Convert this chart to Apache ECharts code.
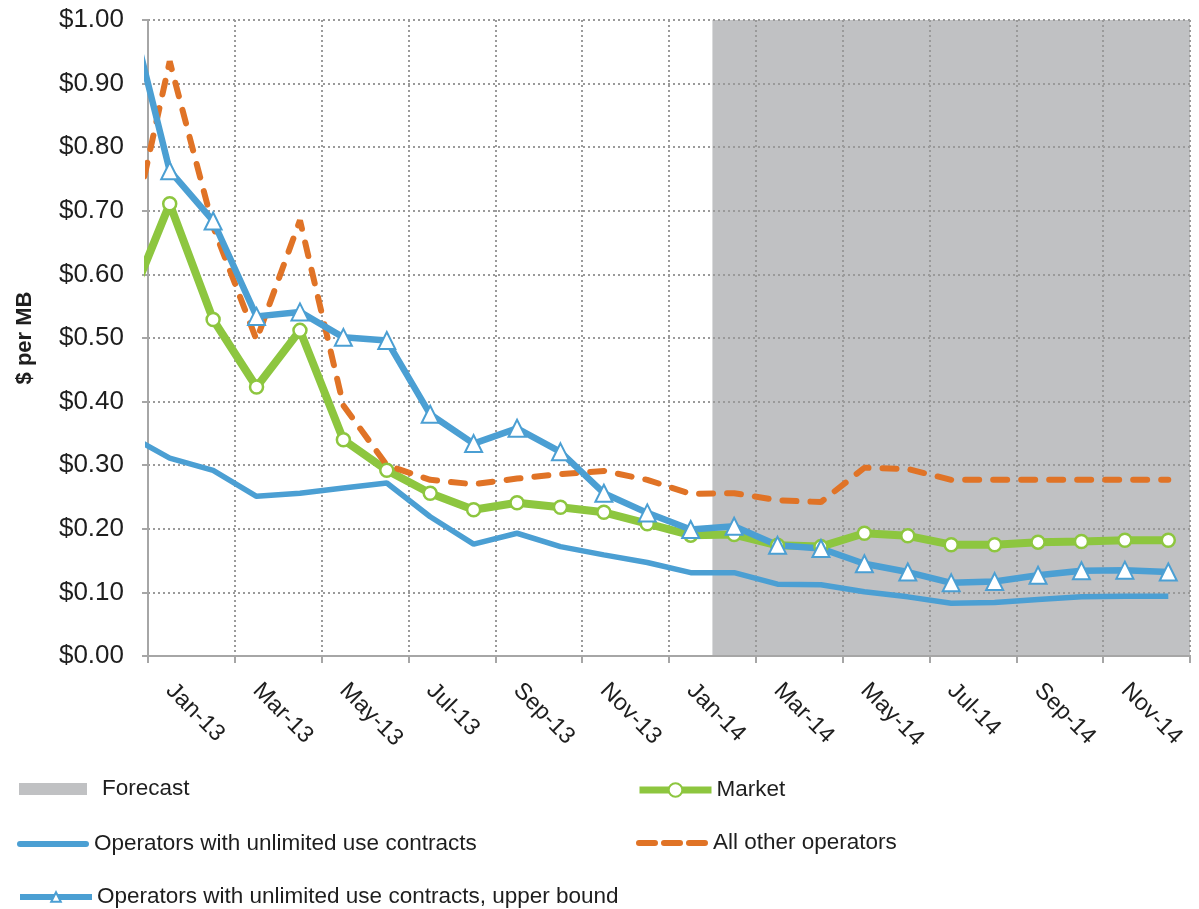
<!DOCTYPE html>
<html>
<head>
<meta charset="utf-8">
<script src="https://cdn.jsdelivr.net/npm/echarts@6/dist/echarts.min.js"></script>
<style>
  html, body { margin: 0; padding: 0; background: #ffffff; }
  #chart { width: 1199px; height: 909px; }
</style>
</head>
<body>
<div id="chart"></div>
<script>
// Axis months (two-year view)
const months = ['Jan-13','Feb-13','Mar-13','Apr-13','May-13','Jun-13','Jul-13','Aug-13','Sep-13','Oct-13','Nov-13','Dec-13',
                'Jan-14','Feb-14','Mar-14','Apr-14','May-14','Jun-14','Jul-14','Aug-14','Sep-14','Oct-14','Nov-14','Dec-14'];
// Series months start one month earlier (Dec-12), which falls just left of the plot and is clipped
const seriesMonths = ['Dec-12'].concat(months);
const forecastStart = 'Feb-14';

const market      = [0.543, 0.711, 0.529, 0.423, 0.512, 0.340, 0.292, 0.256, 0.230, 0.241, 0.234, 0.226, 0.208,
                     0.190, 0.191, 0.174, 0.172, 0.193, 0.189, 0.175, 0.175, 0.179, 0.180, 0.182, 0.182];
const unlimited   = [0.349, 0.311, 0.292, 0.251, 0.256, 0.264, 0.272, 0.219, 0.176, 0.193, 0.172, 0.159, 0.147,
                     0.131, 0.131, 0.113, 0.112, 0.101, 0.093, 0.083, 0.084, 0.089, 0.093, 0.094, 0.094];
const otherOps    = [0.625, 0.935, 0.675, 0.497, 0.685, 0.394, 0.300, 0.277, 0.270, 0.279, 0.286, 0.291, 0.277,
                     0.255, 0.256, 0.245, 0.242, 0.296, 0.294, 0.277, 0.277, 0.277, 0.277, 0.277, 0.277];
const upperBound  = [1.037, 0.763, 0.684, 0.534, 0.541, 0.501, 0.496, 0.380, 0.334, 0.358, 0.321, 0.256, 0.225,
                     0.199, 0.204, 0.174, 0.169, 0.145, 0.132, 0.115, 0.117, 0.127, 0.134, 0.135, 0.132];

const FONT = '"Liberation Sans", Arial, sans-serif';
const TEXT = '#1e1e1e';
const GREEN = '#8dc63f', BLUE = '#4b9fd3', ORANGE = '#e07326', GREY = '#c0c1c3';
const FS = 22.5;

// Hidden continuous x axis: month k of seriesMonths sits at the centre of its band (Jan-13 -> 0.5)
function toPoints(values) {
  return values.map((v, k) => [k - 0.5, v]);
}

// Legend glyphs for the plain and dashed lines (72 x 6 units, rounded ends)
function capsule(x0, x1) {
  return 'M' + (x0 + 3) + ',0H' + (x1 - 3) + 'A3,3 0 0 1 ' + (x1 - 3) + ',6H' + (x0 + 3) + 'A3,3 0 0 1 ' + (x0 + 3) + ',0Z';
}
const solidIcon = 'path://' + capsule(0, 72);
const dashIcon = 'path://' + capsule(0, 22) + ' ' + capsule(25, 47) + ' ' + capsule(50, 72);

const chart = echarts.init(document.getElementById('chart'), null, { renderer: 'canvas' });

function legendAt(left, centreY, extra) {
  return Object.assign({
    left: left, top: centreY - 12, orient: 'horizontal', padding: 0,
    itemWidth: 72, itemHeight: 14, itemGap: 0, selectedMode: false,
    symbolKeepAspect: false,
    textStyle: { fontFamily: FONT, fontSize: FS, color: TEXT, lineHeight: 26, padding: [0, 0, 0, 0] }
  }, extra);
}

chart.setOption({
  animation: false,
  backgroundColor: '#ffffff',
  textStyle: { fontFamily: FONT },
  grid: { left: 148, right: 9, top: 20, bottom: 253, containLabel: false },
  legend: [
    legendAt(19, 788, {
      itemWidth: 68, itemHeight: 12,
      data: [{ name: 'Forecast', icon: 'rect', itemStyle: { color: GREY } }],
      textStyle: { fontFamily: FONT, fontSize: FS, color: TEXT, lineHeight: 26, padding: [0, 0, 0, 10] }
    }),
    legendAt(17, 843, {
      itemHeight: 6,
      data: [{ name: 'Operators with unlimited use contracts', icon: solidIcon, itemStyle: { color: BLUE } }]
    }),
    legendAt(17, 896, {
      lineStyle: { width: 6, color: BLUE },
      itemHeight: 12,
      itemStyle: { color: '#ffffff', borderColor: BLUE, borderWidth: 2 },
      data: ['Operators with unlimited use contracts, upper bound']
    }),
    legendAt(636, 789, {
      lineStyle: { width: 7, color: GREEN },
      itemHeight: 17,
      itemStyle: { color: '#ffffff', borderColor: GREEN, borderWidth: 2 },
      data: ['Market']
    }),
    legendAt(636, 842, {
      itemHeight: 6,
      data: [{ name: 'All other operators', icon: dashIcon, itemStyle: { color: ORANGE } }]
    })
  ],
  xAxis: [
    {
      type: 'category', data: months, boundaryGap: true, position: 'bottom',
      axisLine: { lineStyle: { color: '#a6a6a6', width: 2 } },
      axisTick: { show: true, interval: 1, length: 7, lineStyle: { color: '#a6a6a6', width: 2 } },
      axisLabel: { interval: 1, rotate: -45, margin: 31, fontFamily: FONT, fontSize: 23.5, color: TEXT },
      splitLine: { show: true, interval: 1, lineStyle: { color: '#9a9a9a', type: [2, 3], width: 2 } }
    },
    { type: 'value', min: 0, max: months.length, show: false }
  ],
  yAxis: {
    type: 'value', min: 0, max: 1, interval: 0.1,
    name: '$ per MB', nameLocation: 'middle', nameGap: 112,
    nameTextStyle: { fontFamily: FONT, fontSize: 22, fontWeight: 'bold', color: TEXT },
    axisLine: { show: true, lineStyle: { color: '#a6a6a6', width: 2 } },
    axisTick: { show: true, length: 6, lineStyle: { color: '#a6a6a6', width: 2 } },
    axisLabel: { margin: 24, fontFamily: FONT, fontSize: 26, color: TEXT,
      formatter: v => '$' + v.toFixed(2) },
    splitLine: { show: true, lineStyle: { color: '#9a9a9a', type: [2, 3], width: 2 } }
  },
  series: [
    {
      // Shaded forecast period, drawn beneath the grid lines
      name: 'Forecast', type: 'custom', xAxisIndex: 1, z: -1, silent: true,
      itemStyle: { color: GREY },
      data: [[months.indexOf(forecastStart), months.length, 0, 1]],
      encode: { x: [0, 1], y: [2, 3] },
      renderItem: function (params, api) {
        const p0 = api.coord([api.value(0), api.value(3)]);
        const p1 = api.coord([api.value(1), api.value(2)]);
        return { type: 'rect', shape: { x: p0[0], y: p0[1], width: p1[0] - p0[0], height: p1[1] - p0[1] },
                 style: { fill: GREY } };
      }
    },
    {
      name: 'Market', type: 'line', xAxisIndex: 1, data: toPoints(market), clip: true,
      symbol: 'circle', symbolSize: 13, showAllSymbol: true,
      lineStyle: { color: GREEN, width: 8 },
      itemStyle: { color: '#ffffff', borderColor: GREEN, borderWidth: 2.5 }
    },
    {
      name: 'Operators with unlimited use contracts', type: 'line', xAxisIndex: 1, data: toPoints(unlimited), clip: true,
      symbol: 'none',
      lineStyle: { color: BLUE, width: 5.5 },
      itemStyle: { color: BLUE }
    },
    {
      name: 'All other operators', type: 'line', xAxisIndex: 1, data: toPoints(otherOps), clip: true,
      symbol: 'none',
      lineStyle: { color: ORANGE, width: 6, type: [14, 14], cap: 'round' },
      itemStyle: { color: ORANGE }
    },
    {
      name: 'Operators with unlimited use contracts, upper bound', type: 'line', xAxisIndex: 1, data: toPoints(upperBound), clip: true,
      symbol: 'triangle', symbolSize: 17, showAllSymbol: true,
      lineStyle: { color: BLUE, width: 6.5 },
      itemStyle: { color: '#ffffff', borderColor: BLUE, borderWidth: 2 }
    }
  ]
});
</script>
</body>
</html>
